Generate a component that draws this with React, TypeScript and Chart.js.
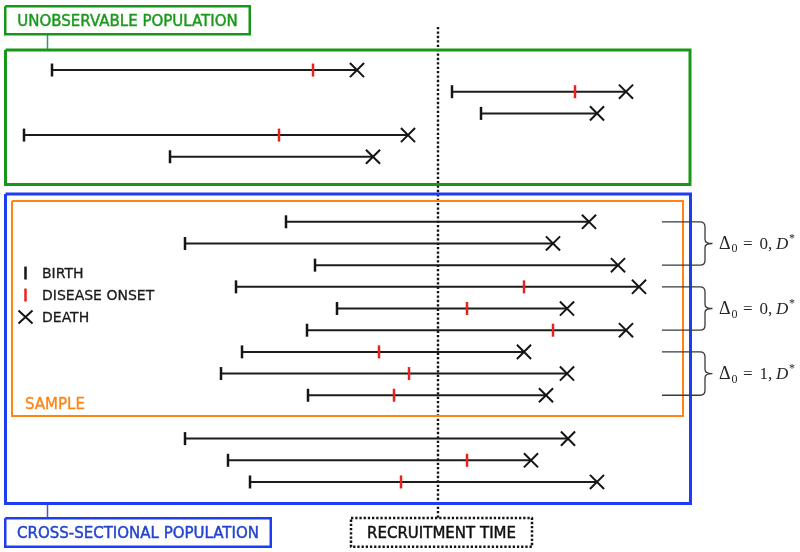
import React, { useEffect, useRef } from "react";
import { Chart, registerables } from "chart.js";
Chart.register(...registerables);

// ---- data: one lifeline per row (row index, birth, disease onset, death times) ----
const rows = [0, 1, 2, 3, 4, 7, 8, 9, 10, 11, 12, 13, 14, 15, 17, 18, 19];
const birth = [52, 452, 481, 24, 170, 286, 185, 315, 236, 337, 307, 242, 221, 308, 185, 228, 250];
const onset: (number | null)[] = [313, 575, null, 279, null, null, null, null, 524, 467, 553, 379, 409, 394, null, 467, 401];
const death = [357, 626, 597, 408, 373, 589, 553, 618, 639, 567, 626, 524, 567, 546, 568, 531, 597];
const recruitmentTime = 438;

const bracketGroups = [[7, 9], [10, 12], [13, 15]];
const bracketDelta = ["0", "0", "1"];
const legendLabels = ["BIRTH", "DISEASE ONSET", "DEATH"];

// ---- layout / style ----
const X_MIN = 0, X_MAX = 800, Y_MIN = -3.23, Y_MAX = 22.23;
const GREEN = "#189618";
const BLUE = "#1e3cf4";
const ORANGE = "#ff8414";
const RED = "#e8221c";
const INK = "#151515";

type Box = { x0: number; x1: number; y0: number; y1: number; color: string; width: number; dash?: number[]; label?: string; text?: string };
const boxes: Box[] = [
  { x0: 5.25, x1: 249.75, y0: -2.94, y1: -1.649, color: GREEN, width: 2.5, label: "UNOBSERVABLE POPULATION", text: "#1c991c" },
  { x0: 5.5, x1: 690, y0: -0.9225, y1: 5.281, color: GREEN, width: 3 },
  { x0: 5.5, x1: 690.5, y0: 5.72, y1: 19.995, color: BLUE, width: 3 },
  { x0: 12, x1: 683, y0: 6.042, y1: 15.96, color: ORANGE, width: 2 },
  { x0: 5.25, x1: 270.75, y0: 20.676, y1: 21.991, color: BLUE, width: 2.5, label: "CROSS-SECTIONAL POPULATION", text: "#2444d0" },
  { x0: 351, x1: 532, y0: 20.664, y1: 21.993, color: INK, width: 2.5, dash: [2.3, 1.9], label: "RECRUITMENT TIME", text: "#111" },
];
const connectors = [
  { x: 47.5, y0: -1.649, y1: -0.9225, color: "#2f9a6a" },
  { x: 47.5, y0: 19.995, y1: 20.676, color: "#3a5ae0" },
];
const recruitSpan = [-1.983, 20.664];
const legendX = 25.5, legendTextX = 42;
const legendRows = [9.363, 10.378, 11.393];
const sampleLabelPos = { x: 25, y: 15.36 };
const bracketX = { start: 662, spine: 705, tip: 712, text: 719 };

function boldText(ctx: any, t: string, x: number, y: number, color: string, w = 0.45) {
  ctx.fillStyle = color;
  ctx.strokeStyle = color;
  ctx.lineWidth = w;
  ctx.lineJoin = "round";
  ctx.fillText(t, x, y);
  ctx.strokeText(t, x, y);
}

const annotPlugin = {
  id: "annot",
  afterDraw(chart: any) {
    const { ctx } = chart;
    const xs = chart.scales.x, ys = chart.scales.y;
    const px = (v: number) => xs.getPixelForValue(v);
    const py = (v: number) => ys.getPixelForValue(v);
    ctx.save();
    // box labels
    ctx.font = '15px "DejaVu Sans"';
    ctx.textAlign = "center";
    ctx.textBaseline = "alphabetic";
    boxes.forEach((b) => {
      if (!b.label) return;
      boldText(ctx, b.label, (px(b.x0) + px(b.x1)) / 2, (py(b.y0) + py(b.y1)) / 2 + 5.5, b.text as string);
    });
    // SAMPLE label
    ctx.textAlign = "left";
    boldText(ctx, "SAMPLE", px(sampleLabelPos.x), py(sampleLabelPos.y) + 5.5, ORANGE, 0.35);
    // legend
    ctx.font = '14px "DejaVu Sans"';
    legendLabels.forEach((t, i) => {
      const cy = py(legendRows[i]);
      boldText(ctx, t, px(legendTextX), cy + 5, "#1a1a1a", 0.3);
      const cx = px(legendX);
      ctx.lineWidth = 2.5;
      if (i < 2) {
        ctx.strokeStyle = i === 0 ? INK : RED;
        ctx.beginPath();
        ctx.moveTo(cx, cy - 6.5);
        ctx.lineTo(cx, cy + 6.5);
        ctx.stroke();
      } else {
        ctx.strokeStyle = INK;
        ctx.lineWidth = 2;
        ctx.beginPath();
        ctx.moveTo(cx - 7, cy - 6.5);
        ctx.lineTo(cx + 7, cy + 6.5);
        ctx.moveTo(cx - 7, cy + 6.5);
        ctx.lineTo(cx + 7, cy - 6.5);
        ctx.stroke();
      }
    });
    // brackets
    bracketGroups.forEach((g, i) => {
      const top = py(g[0]), bot = py(g[1]), mid = (top + bot) / 2;
      const x0 = px(bracketX.start), xs2 = px(bracketX.spine), xt = px(bracketX.tip);
      const r = 5;
      ctx.strokeStyle = "#3a3a3a";
      ctx.lineWidth = 1.3;
      ctx.beginPath();
      ctx.moveTo(x0, top);
      ctx.lineTo(xs2 - r, top);
      ctx.quadraticCurveTo(xs2, top, xs2, top + r);
      ctx.lineTo(xs2, mid - 4);
      ctx.quadraticCurveTo(xs2, mid, xt, mid);
      ctx.quadraticCurveTo(xs2, mid, xs2, mid + 4);
      ctx.lineTo(xs2, bot - r);
      ctx.quadraticCurveTo(xs2, bot, xs2 - r, bot);
      ctx.lineTo(x0, bot);
      ctx.stroke();
      // math label  Δ0 = k, D*
      const tx = px(bracketX.text);
      const base = mid + 5.5;
      ctx.fillStyle = "#262626";
      ctx.textAlign = "left";
      ctx.font = '18px "Liberation Serif"';
      ctx.fillText("\u0394", tx, base);
      ctx.font = '12px "Liberation Serif"';
      ctx.fillText("0", tx + 12.5, base + 3.5);
      ctx.font = '17px "Liberation Serif"';
      ctx.fillText("=", tx + 24, base);
      ctx.fillText(bracketDelta[i] + ",", tx + 40.5, base);
      ctx.font = 'italic 17px "Liberation Serif"';
      ctx.fillText("D", tx + 57, base);
      ctx.font = '12px "Liberation Serif"';
      ctx.fillText("*", tx + 70, base - 7);
    });
    ctx.restore();
  },
};

export default function App() {
  const ref = useRef<HTMLCanvasElement>(null);
  useEffect(() => {
    if (!ref.current) return;
    const datasets: any[] = [];
    // markers (drawn on top: lower order)
    datasets.push({
      data: rows.map((r, i) => ({ x: birth[i], y: r })),
      pointStyle: "line", rotation: 90, pointRadius: 6.5, pointBorderWidth: 2.5,
      borderColor: INK, backgroundColor: INK, showLine: false, order: 0, clip: false,
    });
    datasets.push({
      data: rows.map((r, i) => (onset[i] == null ? null : { x: onset[i], y: r })).filter(Boolean),
      pointStyle: "line", rotation: 90, pointRadius: 6.5, pointBorderWidth: 2.5,
      borderColor: RED, backgroundColor: RED, showLine: false, order: 0, clip: false,
    });
    datasets.push({
      data: rows.map((r, i) => ({ x: death[i], y: r })),
      pointStyle: "crossRot", pointRadius: 10, pointBorderWidth: 2,
      borderColor: INK, backgroundColor: INK, showLine: false, order: 0, clip: false,
    });
    // lifelines
    rows.forEach((r, i) => {
      datasets.push({
        data: [{ x: birth[i], y: r }, { x: death[i], y: r }],
        showLine: true, borderColor: "#1c1c1c", borderWidth: 2, pointRadius: 0, order: 1, clip: false,
      });
    });
    // boxes
    boxes.forEach((b) => {
      datasets.push({
        data: [{ x: b.x0, y: b.y0 }, { x: b.x1, y: b.y0 }, { x: b.x1, y: b.y1 }, { x: b.x0, y: b.y1 }, { x: b.x0, y: b.y0 }],
        showLine: true, borderColor: b.color, borderWidth: b.width, borderDash: b.dash || [],
        borderJoinStyle: b.dash ? "round" : "miter", borderCapStyle: "butt", pointRadius: 0, order: 2, clip: false,
      });
    });
    connectors.forEach((c) => {
      datasets.push({
        data: [{ x: c.x, y: c.y0 }, { x: c.x, y: c.y1 }],
        showLine: true, borderColor: c.color, borderWidth: 1.5, pointRadius: 0, order: 2, clip: false,
      });
    });
    // recruitment time
    datasets.push({
      data: [{ x: recruitmentTime, y: recruitSpan[0] }, { x: recruitmentTime, y: recruitSpan[1] }],
      showLine: true, borderColor: INK, borderWidth: 2.4, borderDash: [2.3, 2.1], pointRadius: 0, order: 3, clip: false,
    });

    const chart = new Chart(ref.current, {
      type: "scatter",
      data: { datasets },
      options: {
        animation: false,
        responsive: false,
        devicePixelRatio: 1,
        events: [],
        layout: { padding: 0, autoPadding: false },
        plugins: { legend: { display: false }, tooltip: { enabled: false } },
        scales: {
          x: { type: "linear", min: X_MIN, max: X_MAX, display: false },
          y: { type: "linear", min: Y_MIN, max: Y_MAX, reverse: true, display: false },
        },
      },
      plugins: [annotPlugin],
    });
    return () => chart.destroy();
  }, []);
  return (
    <div style={{ position: "absolute", left: 0, top: 0, width: 800, height: 552, background: "#fff" }}>
      <canvas ref={ref} width={800} height={552} style={{ display: "block" }} />
    </div>
  );
}
